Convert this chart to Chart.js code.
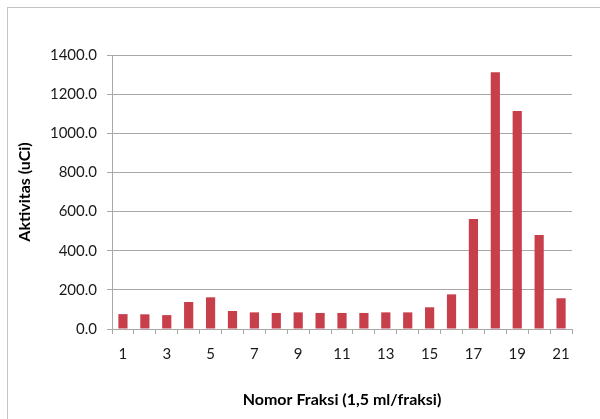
<!DOCTYPE html>
<html>
<head>
<meta charset="utf-8">
<script src="https://cdn.jsdelivr.net/npm/chart.js@4/dist/chart.umd.min.js"></script>
<style>
  html, body { margin: 0; padding: 0; background: #fff; }
  #wrap { position: relative; width: 600px; height: 419px; overflow: hidden; }
  #frame { position: absolute; left: 7px; top: 7px; width: 700px; height: 500px;
           border-left: 1px solid #c4c4c4; border-top: 1px solid #c4c4c4; }
  canvas { position: absolute; left: 0; top: 0; }
</style>
</head>
<body>
<div id="wrap">
  <div id="frame"></div>
  <canvas id="c" width="600" height="419"></canvas>
</div>
<script>
// Fraction numbers (1.5 ml per fraction) and measured activity in uCi
const fractions = ['1','2','3','4','5','6','7','8','9','10','11','12','13','14','15','16','17','18','19','20','21'];
const activity = [76, 75, 71, 138, 162, 92, 85, 82, 85, 82, 82, 82, 85, 85, 111, 177, 562, 1312, 1114, 480, 157];
const yTicks = [0, 200, 400, 600, 800, 1000, 1200, 1400];

const FONT = 'Lato, "Open Sans", "Liberation Sans", sans-serif';

new Chart(document.getElementById('c'), {
  type: 'bar',
  data: {
    labels: fractions,
    datasets: [{
      label: 'Aktivitas',
      data: activity,
      backgroundColor: '#c83f4c',
      borderWidth: 0,
      barPercentage: 0.42,
      categoryPercentage: 1.0
    }]
  },
  options: {
    responsive: false,
    animation: false,
    devicePixelRatio: 1,
    layout: { padding: { top: 55, right: 28, bottom: 0, left: 0 } },
    plugins: { legend: { display: false }, tooltip: { enabled: false } },
    scales: {
      x: {
        offset: true,
        grid: {
          offset: true,
          drawOnChartArea: false,
          drawTicks: true,
          tickLength: 5,
          color: '#a8a8a8'
        },
        border: { color: '#a8a8a8' },
        ticks: {
          autoSkip: false,
          maxRotation: 0,
          padding: 11.5,
          color: '#1a1a1a',
          font: { family: FONT, size: 15 },
          callback: function (v, i) { return i % 2 === 0 ? fractions[i] : ''; }
        },
        title: {
          display: true,
          text: 'Nomor Fraksi (1,5 ml/fraksi)',
          color: '#000',
          font: { family: FONT, size: 16, weight: 'bold' },
          padding: { top: 0, bottom: 9.4 }
        },
        afterFit: function (s) { s.height = 90; }
      },
      y: {
        min: 0,
        max: 1400,
        afterBuildTicks: function (s) { s.ticks = yTicks.map(v => ({ value: v })); },
        grid: { color: '#a8a8a8', tickLength: 5 },
        border: { color: '#a8a8a8' },
        ticks: {
          padding: 10,
          color: '#1a1a1a',
          font: { family: FONT, size: 15 },
          callback: function (v) { return Number(v).toFixed(1); }
        },
        title: {
          display: true,
          text: 'Aktivitas (uCi)',
          color: '#000',
          font: { family: FONT, size: 16, weight: 'bold' },
          padding: { top: 15.4, bottom: 0 }
        },
        afterFit: function (s) { s.width = 112; }
      }
    }
  }
});
</script>
</body>
</html>
